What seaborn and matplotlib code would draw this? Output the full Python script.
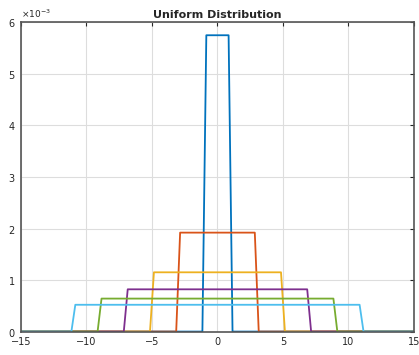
import numpy as np
import pandas as pd
import matplotlib
matplotlib.use("Agg")
import matplotlib.pyplot as plt
import matplotlib.ticker as mticker
import seaborn as sns

# Data: half-widths of uniform supports and their heights
names = ["a=1", "a=3", "a=5", "a=7", "a=9", "a=11"]
half_widths = [1, 3, 5, 7, 9, 11]
heights = [5.75e-3, 1.92e-3, 1.15e-3, 0.82e-3, 0.64e-3, 0.52e-3]
ramp = 0.15  # edge softening seen in the picture
x_limits = [-15, 15]
colors = ["#0072BD", "#D95319", "#EDB120", "#7E2F8E", "#77AC30", "#4DBEEE"]
x_ticks = [-15, -10, -5, 0, 5, 10, 15]
y_ticks = [0, 1e-3, 2e-3, 3e-3, 4e-3, 5e-3, 6e-3]

rows = []
for n, a, h in zip(names, half_widths, heights):
    xs = [x_limits[0], -a - ramp, -a + ramp, a - ramp, a + ramp, x_limits[1]]
    ys = [0, 0, h, h, 0, 0]
    for i, (x, y) in enumerate(zip(xs, ys)):
        rows.append({"series": n, "order": i, "x": x, "y": y})
df = pd.DataFrame(rows)

sns.set_style("white")
plt.rcParams["font.family"] = ["DejaVu Sans"]

fig = plt.figure(figsize=(4.19, 3.55), dpi=100)
ax = fig.add_axes([0.050, 0.066, 0.938, 0.871])

sns.lineplot(data=df, x="x", y="y", hue="series", palette=colors,
             sort=False, estimator=None, legend=False, linewidth=1.3, ax=ax)

ax.set_xlim(x_limits)
ax.set_ylim(0, 6e-3)
ax.set_xticks(x_ticks)
ax.set_yticks(y_ticks)
fmt = mticker.ScalarFormatter(useMathText=True)
fmt.set_powerlimits((-2, 2))
ax.yaxis.set_major_formatter(fmt)
ax.yaxis.get_offset_text().set_fontsize(6.5)
ax.yaxis.get_offset_text().set_color("#555555")
ax.set_xlabel("")
ax.set_ylabel("")
ax.grid(True, color="#DDDDDD", linewidth=0.8)
ax.set_axisbelow(True)
ax.tick_params(direction="in", length=3, width=0.8, labelsize=7,
               colors="#262626", top=True, right=True, pad=2)
ax.tick_params(axis="x", pad=4)
ax.tick_params(axis="y", pad=4)
for s in ax.spines.values():
    s.set_color("#555555")
    s.set_linewidth(1.2)
    s.set_visible(True)
ax.set_title("Uniform Distribution", fontsize=8, fontweight="bold", pad=3)

fig.savefig("out.png", dpi=100)
